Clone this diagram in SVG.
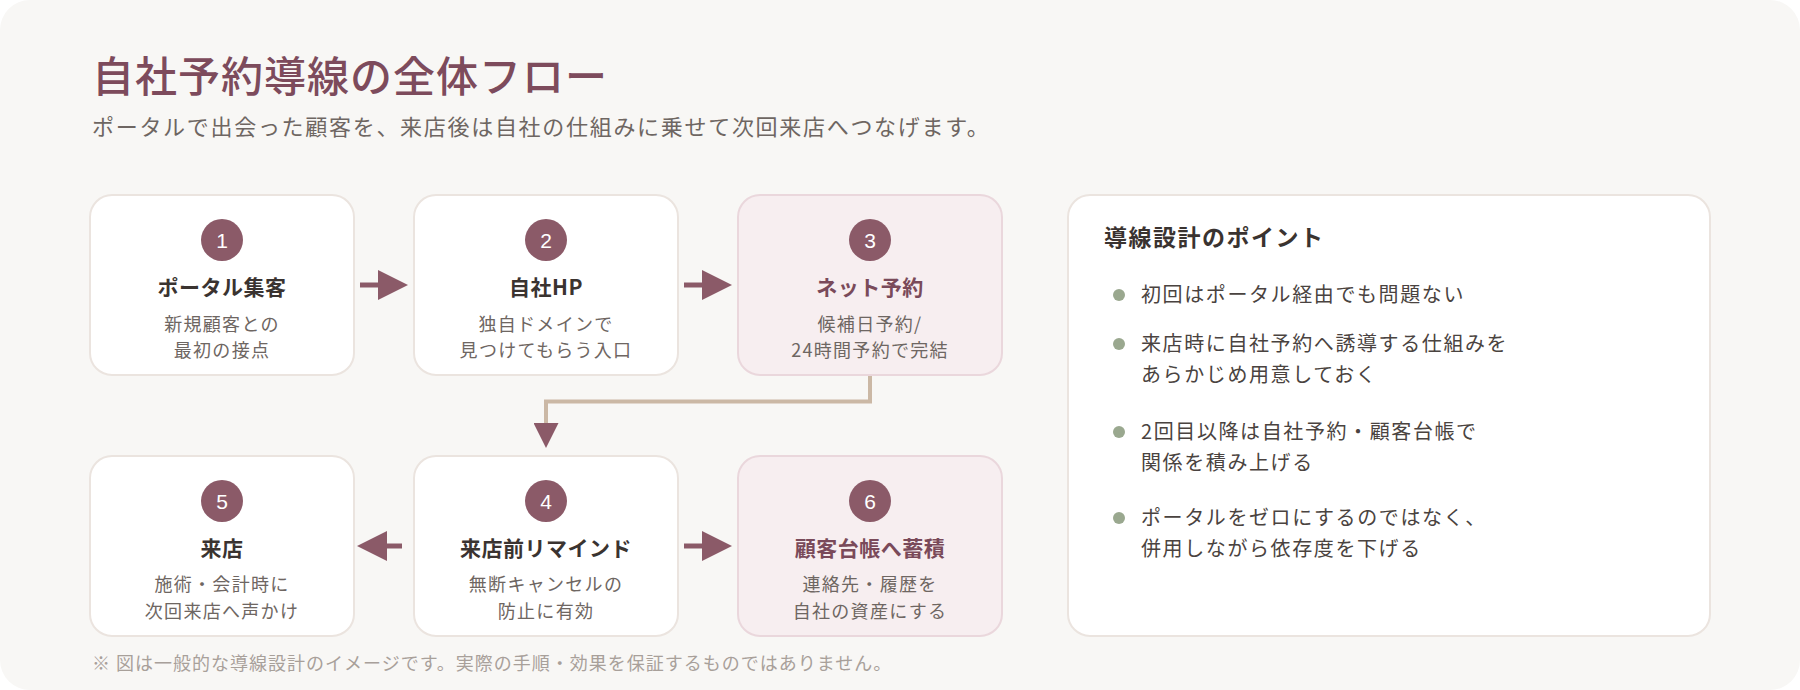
<svg xmlns="http://www.w3.org/2000/svg" width="1800" height="690" viewBox="0 0 1800 690">
  <defs>
    <style>
      .jp { font-family: "Noto Sans CJK JP", "Noto Sans", sans-serif; }
      .title { font-family: "Liberation Serif", "Noto Sans CJK JP", serif; font-size: 42px; font-weight: 500; fill: #7d4b5c; letter-spacing: 1px; }
      .subtitle { font-size: 22px; fill: #6e6662; letter-spacing: 1.7px; }
      .card { fill: #ffffff; stroke: #ebe4df; stroke-width: 2; }
      .card-hl { fill: #f7eef0; stroke: #ead7dc; stroke-width: 2; }
      .badge { fill: #8b5a68; }
      .num { font-family: "Liberation Sans", "Noto Sans", sans-serif; font-size: 21px; font-weight: 400; fill: #ffffff; text-anchor: middle; }
      .ctitle { font-size: 21px; font-weight: 700; fill: #3a3330; text-anchor: middle; letter-spacing: 0.5px; }
      .ctitle-hl { fill: #7a4a5a; }
      .desc { font-size: 18px; fill: #6e6662; text-anchor: middle; letter-spacing: 1.3px; }
      .shaft { stroke: #8b5a68; stroke-width: 5; fill: none; }
      .route { stroke: #cbb8a5; stroke-width: 4; fill: none; }
      .ptitle { font-size: 23px; font-weight: 700; fill: #3a3330; letter-spacing: 1.5px; }
      .dot { fill: #9aa88f; }
      .btext { font-size: 20px; fill: #4a4340; letter-spacing: 1.6px; }
      .note { font-size: 18px; fill: #a8a09a; letter-spacing: 1px; }
    </style>
    <marker id="head" viewBox="0 0 30 30" refX="0" refY="15" markerWidth="30" markerHeight="30" markerUnits="userSpaceOnUse" orient="auto">
      <path d="M0,0 L30,15 L0,30 Z" fill="#8b5a68"/>
    </marker>
    <marker id="headSmall" viewBox="0 0 25 25" refX="0" refY="12.5" markerWidth="25" markerHeight="25" markerUnits="userSpaceOnUse" orient="auto">
      <path d="M0,0 L25,12.5 L0,25 Z" fill="#8b5a68"/>
    </marker>
  </defs>

  <rect x="0" y="0" width="1800" height="690" fill="#ffffff"/>
  <rect x="0" y="0" width="1800" height="690" rx="30" ry="30" fill="#f8f7f5"/>

  <g id="header">
    <text class="title" x="92" y="92">自社予約導線の全体フロー</text>
    <text class="jp subtitle" x="92" y="135">ポータルで出会った顧客を、来店後は自社の仕組みに乗せて次回来店へつなげます。</text>
  </g>

  <g id="connectors">
    <line class="shaft" x1="360" y1="285" x2="378" y2="285" marker-end="url(#head)"/>
    <line class="shaft" x1="684" y1="285" x2="702" y2="285" marker-end="url(#head)"/>
    <path class="route" d="M870,375 V401.5 H546 V423" marker-end="url(#headSmall)"/>
    <line class="shaft" x1="402" y1="546" x2="387" y2="546" marker-end="url(#head)"/>
    <line class="shaft" x1="684" y1="546" x2="702" y2="546" marker-end="url(#head)"/>
  </g>

  <g id="node1">
    <rect class="card" x="90" y="195" width="264" height="180" rx="22"/>
    <circle class="badge" cx="222" cy="240" r="21"/>
    <text class="num" x="222" y="247.5">1</text>
    <text class="jp ctitle" x="222" y="295">ポータル集客</text>
    <text class="jp desc" x="222" y="331">新規顧客との</text>
    <text class="jp desc" x="222" y="357">最初の接点</text>
  </g>

  <g id="node2">
    <rect class="card" x="414" y="195" width="264" height="180" rx="22"/>
    <circle class="badge" cx="546" cy="240" r="21"/>
    <text class="num" x="546" y="247.5">2</text>
    <text class="jp ctitle" x="546" y="295">自社HP</text>
    <text class="jp desc" x="546" y="331">独自ドメインで</text>
    <text class="jp desc" x="546" y="357">見つけてもらう入口</text>
  </g>

  <g id="node3">
    <rect class="card-hl" x="738" y="195" width="264" height="180" rx="22"/>
    <circle class="badge" cx="870" cy="240" r="21"/>
    <text class="num" x="870" y="247.5">3</text>
    <text class="jp ctitle ctitle-hl" x="870" y="295">ネット予約</text>
    <text class="jp desc" x="870" y="331">候補日予約/</text>
    <text class="jp desc" x="870" y="357">24時間予約で完結</text>
  </g>

  <g id="node5">
    <rect class="card" x="90" y="456" width="264" height="180" rx="22"/>
    <circle class="badge" cx="222" cy="501" r="21"/>
    <text class="num" x="222" y="508.5">5</text>
    <text class="jp ctitle" x="222" y="556">来店</text>
    <text class="jp desc" x="222" y="591">施術・会計時に</text>
    <text class="jp desc" x="222" y="618">次回来店へ声かけ</text>
  </g>

  <g id="node4">
    <rect class="card" x="414" y="456" width="264" height="180" rx="22"/>
    <circle class="badge" cx="546" cy="501" r="21"/>
    <text class="num" x="546" y="508.5">4</text>
    <text class="jp ctitle" x="546" y="556">来店前リマインド</text>
    <text class="jp desc" x="546" y="591">無断キャンセルの</text>
    <text class="jp desc" x="546" y="618">防止に有効</text>
  </g>

  <g id="node6">
    <rect class="card-hl" x="738" y="456" width="264" height="180" rx="22"/>
    <circle class="badge" cx="870" cy="501" r="21"/>
    <text class="num" x="870" y="508.5">6</text>
    <text class="jp ctitle ctitle-hl" x="870" y="556">顧客台帳へ蓄積</text>
    <text class="jp desc" x="870" y="591">連絡先・履歴を</text>
    <text class="jp desc" x="870" y="618">自社の資産にする</text>
  </g>

  <g id="points">
    <rect class="card" x="1068" y="195" width="642" height="441" rx="22"/>
    <text class="jp ptitle" x="1104" y="246">導線設計のポイント</text>
    <circle class="dot" cx="1119" cy="295" r="6"/>
    <text class="jp btext" x="1141" y="302">初回はポータル経由でも問題ない</text>
    <circle class="dot" cx="1119" cy="344" r="6"/>
    <text class="jp btext" x="1141" y="351">来店時に自社予約へ誘導する仕組みを</text>
    <text class="jp btext" x="1141" y="382">あらかじめ用意しておく</text>
    <circle class="dot" cx="1119" cy="432" r="6"/>
    <text class="jp btext" x="1141" y="439">2回目以降は自社予約・顧客台帳で</text>
    <text class="jp btext" x="1141" y="470">関係を積み上げる</text>
    <circle class="dot" cx="1119" cy="518" r="6"/>
    <text class="jp btext" x="1141" y="525">ポータルをゼロにするのではなく、</text>
    <text class="jp btext" x="1141" y="556">併用しながら依存度を下げる</text>
  </g>

  <g id="footer">
    <text class="jp note" x="92" y="670">※ 図は一般的な導線設計のイメージです。実際の手順・効果を保証するものではありません。</text>
  </g>
</svg>
